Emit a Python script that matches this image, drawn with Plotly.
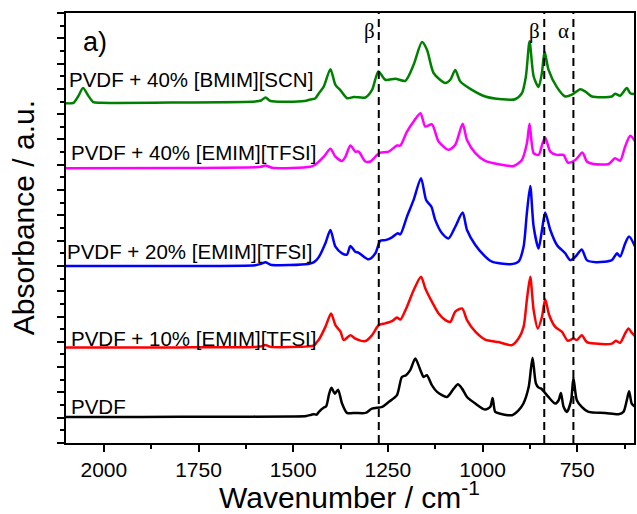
import plotly.graph_objects as go

# ---------------- data ----------------
wn_pvdf = [2100, 1900, 1700, 1500, 1465, 1452, 1445, 1438, 1432, 1419, 1413, 1405, 1399, 1390, 1381.5,
           1371, 1358, 1336, 1309, 1292, 1265, 1248, 1226, 1213, 1202, 1191, 1177.5, 1164, 1155.5, 1147,
           1133.5, 1120, 1094, 1076, 1065, 1054, 1041, 1019, 993, 979.5, 973.4, 966.4, 953, 922, 905,
           892, 878, 868, 859, 852, 845, 826, 808, 799, 793, 786, 777, 766, 760, 751, 738, 720, 676,
           641, 628, 619, 613, 606, 597]
abs_pvdf = [1.03, 1.03, 1.04, 1.05, 1.07, 1.12, 1.14, 1.12, 1.23, 1.40, 1.45, 1.95, 2.18, 1.95, 2.11,
            1.56, 1.19, 1.19, 1.19, 1.36, 1.43, 1.62, 1.89, 2.61, 2.68, 2.88, 3.34, 2.88, 2.61, 2.68,
            2.28, 2.02, 1.82, 2.15, 2.32, 2.15, 1.82, 1.56, 1.32, 1.43, 1.78, 1.23, 1.16, 1.10, 1.29,
            1.56, 2.22, 3.37, 2.35, 2.19, 2.15, 1.82, 1.56, 1.69, 1.98, 1.43, 1.23, 1.69, 2.57, 1.69,
            1.43, 1.23, 1.19, 1.14, 1.23, 1.69, 2.05, 1.56, 1.43]

wn_10 = [2100, 1800, 1600, 1585, 1573, 1560, 1460, 1445, 1437, 1432, 1415, 1400, 1388.5, 1375, 1366.5,
         1349, 1336, 1309, 1292, 1274, 1257, 1239, 1226, 1217, 1199.5, 1182, 1162.5, 1151, 1133.5, 1116,
         1098, 1085, 1072, 1054, 1041, 1019, 993, 957.6, 922.4, 905, 891.6, 883, 874, 865, 854, 843,
         834.5, 824, 808, 790.5, 774.6, 760, 751, 738, 724.5, 702.5, 658.5, 648, 636.6, 623.4, 614.6,
         606, 597]
abs_10 = [3.78, 3.78, 3.80, 3.82, 3.87, 3.80, 3.82, 3.86, 4.00, 4.09, 4.59, 5.12, 4.66, 4.40, 4.07,
          4.26, 4.13, 4.03, 4.26, 4.66, 4.73, 4.82, 4.96, 4.88, 5.39, 6.04, 6.57, 6.11, 5.58, 5.12,
          4.86, 4.79, 5.19, 5.32, 4.86, 4.40, 4.09, 3.99, 3.87, 4.13, 4.59, 5.65, 6.57, 5.25, 4.53, 4.99,
          5.68, 5.06, 4.59, 4.40, 4.04, 4.13, 4.07, 4.26, 3.99, 3.93, 3.93, 4.04, 3.96, 4.33, 4.53,
          4.36, 4.22]

wn_20 = [2100, 1800, 1600, 1585, 1573, 1560, 1460, 1445, 1432, 1415, 1401.7, 1388.5, 1371, 1358, 1349,
         1336, 1327, 1300.6, 1283, 1270, 1256.6, 1239, 1224, 1217, 1199.5, 1182, 1162.5, 1149, 1135,
         1125, 1107, 1089.5, 1072, 1052.5, 1041, 1019, 992.7, 975, 927, 905, 891.6, 883, 874, 865, 852,
         843, 834.5, 821, 803.6, 781.7, 768.5, 755, 738, 724.5, 700, 658.5, 645, 636.6, 623.4, 613, 597]
abs_20 = [7.00, 7.00, 7.03, 7.08, 7.15, 7.05, 7.08, 7.15, 7.36, 7.90, 8.42, 7.76, 7.50, 7.45, 7.79,
          7.56, 7.52, 7.26, 7.50, 8.00, 8.02, 8.13, 8.29, 8.25, 8.95, 9.61, 10.47, 9.61, 9.34,
          8.82, 8.29, 8.09, 8.55, 9.11, 8.42, 7.83, 7.37, 7.17, 7.07, 7.17, 7.76, 9.08, 10.16, 8.55, 7.69,
          8.42, 9.11, 8.42, 7.83, 7.50, 7.23, 7.36, 7.65, 7.23, 7.15, 7.23, 7.50, 7.37, 7.89, 8.16, 7.76]

wn_40 = [2100, 1800, 1600, 1585, 1573, 1555, 1455, 1442, 1432, 1419, 1401.7, 1388.5, 1371, 1362, 1349,
         1336, 1327, 1309.4, 1296, 1278.6, 1270, 1248, 1226, 1217, 1199.5, 1182, 1164, 1151, 1133.5,
         1116, 1089.5, 1072, 1052.5, 1041, 1019, 992.7, 957.6, 918, 896, 882.8, 875.8, 865, 852, 841.5,
         834.5, 821, 803.6, 786, 774.6, 755, 736, 724.5, 707, 667, 650, 636.6, 623.4, 610, 597]
abs_40 = [10.86, 10.87, 10.90, 10.92, 10.97, 10.88, 10.92, 11.00, 11.13, 11.32, 11.63, 11.32, 11.15, 11.32,
          11.76, 11.52, 11.52, 11.13, 11.13, 11.39, 11.48, 11.52, 11.76, 11.76, 12.31, 12.71, 13.04, 12.51,
          12.60, 11.92, 11.59, 11.79, 12.62, 11.98, 11.46, 11.15, 11.02, 10.95, 11.19, 11.85, 12.62, 11.46,
          11.39, 11.85, 12.08, 11.52, 11.39, 11.39, 11.09, 11.19, 11.48, 11.13, 11.03, 11.03, 11.26, 11.16,
          11.72, 12.15, 11.92]

wn_scn = [2100, 2080, 2068, 2055, 2042, 2028, 2010, 1800, 1600, 1585, 1573, 1560, 1470, 1455, 1442, 1432,
          1419, 1401.7, 1388.5, 1375, 1357.7, 1340, 1309.4, 1291.8, 1275, 1256.6, 1230, 1204, 1182, 1160,
          1146.7, 1129, 1098.3, 1085, 1072, 1058.7, 1028, 992.7, 949, 914, 896, 885.5, 875.8, 865, 852,
          843.3, 836.2, 825.6, 803.6, 781.7, 764, 742, 728.9, 711, 658.5, 649.7, 636.6, 619, 610, 597]
abs_scn = [13.43, 13.45, 13.70, 14.03, 13.75, 13.48, 13.45, 13.46, 13.50, 13.54, 13.66, 13.52, 13.52, 13.58,
           13.62, 13.83, 14.10, 14.78, 14.16, 13.94, 13.63, 13.68, 13.66, 13.96, 14.69, 14.36, 14.40, 14.32,
           14.95, 15.85, 15.55, 14.62, 14.23, 14.36, 14.75, 14.29, 13.96, 13.70, 13.59, 13.59, 13.83, 14.49,
           15.88, 14.49, 14.07, 14.62, 15.48, 14.75, 14.07, 13.70, 13.77, 13.99, 13.90, 13.70, 13.70, 13.81,
           13.73, 14.03, 13.83, 13.79]

series_names = ["PVDF", "PVDF + 10% [EMIM][TFSI]", "PVDF + 20% [EMIM][TFSI]",
                "PVDF + 40% [EMIM][TFSI]", "PVDF + 40% [BMIM][SCN]"]
series_x = [wn_pvdf, wn_10, wn_20, wn_40, wn_scn]
series_y = [abs_pvdf, abs_10, abs_20, abs_40, abs_scn]
series_colors = ["#000000", "#FF0000", "#0000FF", "#FF00FF", "#008000"]

band_positions = [1274, 837, 760]
band_labels = ["β", "β", "α"]

x_range = [2100, 600]
y_range = [0, 17]
x_tickvals = [2000, 1750, 1500, 1250, 1000, 750]

for xs, ys in zip(series_x, series_y):
    assert len(xs) == len(ys), (len(xs), len(ys))

# ---------------- layout geometry (pixels) ----------------
W, H = 637, 514
L, R, T, B = 66, 636, 13, 443


def pxx(px):
    return (px - L) / (R - L)


def pxy(py):
    return (B - py) / (B - T)


fig = go.Figure()

for xs, ys, c, n in zip(series_x, series_y, series_colors, series_names):
    fig.add_trace(go.Scatter(x=xs, y=ys, mode="lines", name=n,
                             line=dict(color=c, width=2.5, shape="spline", smoothing=0.7),
                             showlegend=False, hoverinfo="skip"))

for bp in band_positions:
    fig.add_trace(go.Scatter(x=[bp, bp], y=y_range, mode="lines",
                             line=dict(color="black", width=2, dash="8px,5px"),
                             showlegend=False, hoverinfo="skip"))

annotations = []
# series labels (left x, vertical centre in px)
label_pos = [(69, 406), (69, 338), (65, 251), (69, 152), (67, 79)]
for name, (px, py) in zip(series_names, label_pos):
    annotations.append(dict(text=name, x=pxx(px), y=pxy(py), xref="paper", yref="paper",
                            xanchor="left", yanchor="middle", showarrow=False,
                            font=dict(size=20.5, color="black", family="Liberation Sans, Arial")))

for bp, bl in zip(band_positions, band_labels):
    annotations.append(dict(text=bl, x=bp, y=pxy(31), xref="x", yref="paper",
                            xanchor="right", yanchor="middle", xshift=-2, showarrow=False,
                            font=dict(size=21, color="black", family="Liberation Serif, Times New Roman")))

annotations.append(dict(text="a)", x=pxx(81), y=pxy(42), xref="paper", yref="paper",
                        xanchor="left", yanchor="middle", showarrow=False,
                        font=dict(size=27, color="black", family="Liberation Sans, Arial")))

annotations.append(dict(text="Absorbance / a.u.", textangle=-90, x=pxx(24), y=pxy(218),
                        xref="paper", yref="paper", xanchor="center", yanchor="middle",
                        showarrow=False,
                        font=dict(size=30, color="black", family="Liberation Sans, Arial")))

annotations.append(dict(text="Wavenumber / cm<sup>-1</sup>", x=pxx(350), y=pxy(495),
                        xref="paper", yref="paper", xanchor="center", yanchor="middle",
                        showarrow=False,
                        font=dict(size=30, color="black", family="Liberation Sans, Arial")))

fig.update_layout(
    width=W, height=H,
    margin=dict(l=L, r=W - R, t=T, b=H - B, pad=0),
    paper_bgcolor="white", plot_bgcolor="white",
    font=dict(family="Liberation Sans, Arial", color="black"),
    annotations=annotations,
    xaxis=dict(range=x_range, autorange=False, tickmode="array", tickvals=x_tickvals,
               ticks="outside", ticklen=7, tickwidth=1.5, tickcolor="black",
               minor=dict(dtick=125, tick0=0, ticks="outside", ticklen=4, tickwidth=1.5, tickcolor="black"),
               showline=True, linecolor="black", linewidth=1.5, mirror=True,
               showgrid=False, zeroline=False,
               tickfont=dict(size=21, color="black", family="Liberation Sans, Arial")),
    yaxis=dict(range=y_range, autorange=False, dtick=1, tick0=0,
               ticks="outside", ticklen=7, tickwidth=1.5, tickcolor="black",
               minor=dict(dtick=0.5, tick0=0, ticks="outside", ticklen=4, tickwidth=1.5, tickcolor="black"),
               showticklabels=False,
               showline=True, linecolor="black", linewidth=1.5, mirror=True,
               showgrid=False, zeroline=False),
)

fig.write_html("out.html")
